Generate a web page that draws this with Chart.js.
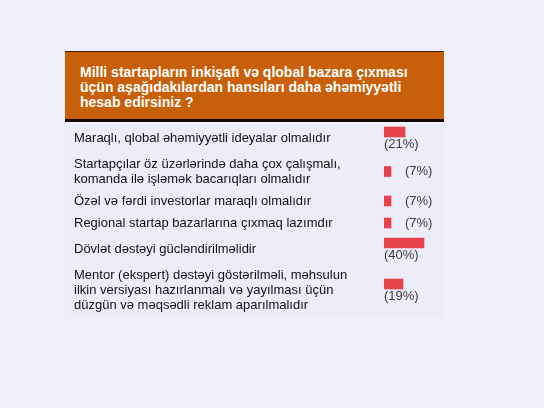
<!DOCTYPE html>
<html>
<head>
<meta charset="utf-8">
<script src="https://cdn.jsdelivr.net/npm/chart.js@4"></script>
<style>
  body { margin: 0; background: #f0f0fc; width: 544px; height: 408px; overflow: hidden; }
  #header {
    position: absolute; left: 65px; top: 51px; width: 364px;
    padding: 13px 0 9px 15px;
    background: #c8600a; color: #fff;
    border-top: 1px solid #3a2410; border-bottom: 3px solid #140a04;
    font: bold 14px/15px "Liberation Sans", Arial, sans-serif;
  }
  #panel { position: absolute; left: 65px; top: 124px; width: 379px; background: #ededfa; }
  #wrap { position: absolute; left: 0; top: 123px; width: 544px; }
</style>
</head>
<body>
<div id="header">Milli startapların inkişafı və qlobal bazara çıxması<br>üçün aşağıdakılardan hansıları daha əhəmiyyətli<br>hesab edirsiniz ?</div>
<div id="panel"></div>
<div id="wrap"><canvas id="pollChart"></canvas></div>
<script>
// Cavab variantları
const categories = [
    ['Maraqlı, qlobal əhəmiyyətli ideyalar olmalıdır'],
    ['Startapçılar öz üzərlərində daha çox çalışmalı,', 'komanda ilə işləmək bacarıqları olmalıdır'],
    ['Özəl və fərdi investorlar maraqlı olmalıdır'],
    ['Regional startap bazarlarına çıxmaq lazımdır'],
    ['Dövlət dəstəyi gücləndirilməlidir'],
    ['Mentor (ekspert) dəstəyi göstərilməli, məhsulun', 'ilkin versiyası hazırlanmalı və yayılması üçün', 'düzgün və məqsədli reklam aparılmalıdır']
];
const votes = [21, 7, 7, 7, 40, 19];          // faizlər
const voteLabels = ['(21%)', '(7%)', '(7%)', '(7%)', '(40%)', '(19%)'];

// Sətir hündürlüyü: mətn sətirləri və ya zolaq + alt yazı (uzun zolaqda yazı alta düşür)
const LINE = 15, PAD = 7;
const wraps = votes.map(v => v > 15);
const rowHeights = categories.map((c, i) => Math.max(c.length * LINE, wraps[i] ? 23 : 10) + PAD);
const rowCenters = [];
let total = 0;
rowHeights.forEach(h => { rowCenters.push(total + h / 2); total += h; });

document.getElementById('wrap').style.height = total + 'px';
document.getElementById('panel').style.height = (total + 1) + 'px';

const barPoints = votes.map((v, i) => ({ x: v, y: wraps[i] ? rowCenters[i] - 6 : rowCenters[i] }));

// Faiz yazıları
const percentLabels = {
    id: 'percentLabels',
    afterDatasetsDraw(chart) {
        const ctx = chart.ctx;
        ctx.save();
        ctx.font = '13px "Liberation Sans", Arial, sans-serif';
        ctx.fillStyle = '#3a3a3a';
        ctx.textBaseline = 'middle';
        ctx.textAlign = 'left';
        chart.getDatasetMeta(0).data.forEach((bar, i) => {
            if (wraps[i]) {
                ctx.fillText(voteLabels[i], bar.base, bar.y + 12);
            } else {
                ctx.fillText(voteLabels[i], bar.x + 14, bar.y);
            }
        });
        ctx.restore();
    }
};

new Chart(document.getElementById('pollChart'), {
    type: 'bar',
    data: {
        datasets: [{
            data: barPoints,
            backgroundColor: '#e6424c',
            barThickness: 10
        }]
    },
    options: {
        indexAxis: 'y',
        responsive: true,
        maintainAspectRatio: false,
        animation: false,
        layout: { padding: { left: 74, right: 100, top: 0, bottom: 0 } },
        plugins: { legend: { display: false }, tooltip: { enabled: false } },
        scales: {
            x: { display: false, min: 0, max: 60 },
            y: {
                type: 'linear',
                reverse: true,
                offset: false,
                min: 0,
                max: total,
                grid: { display: false, offset: false },
                border: { display: false },
                afterBuildTicks(scale) {
                    scale.ticks = rowCenters.map(v => ({ value: v }));
                },
                afterFit(scale) {
                    scale.width = 310;
                    scale.paddingTop = 0;
                    scale.paddingBottom = 0;
                },
                ticks: {
                    autoSkip: false,
                    crossAlign: 'far',
                    color: '#111',
                    font: { family: '"Liberation Sans", Arial, sans-serif', size: 13, lineHeight: '15px' },
                    callback: (value, index) => categories[index]
                }
            }
        }
    },
    plugins: [percentLabels]
});
</script>
</body>
</html>
